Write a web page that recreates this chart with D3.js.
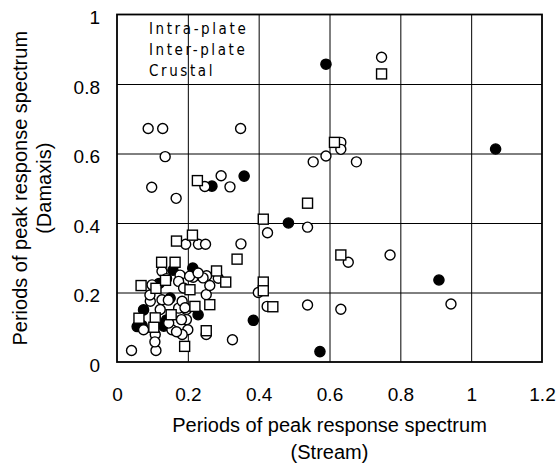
<!DOCTYPE html>
<html>
<head>
<meta charset="utf-8">
<script src="https://cdn.jsdelivr.net/npm/d3@7"></script>
<style>
  html, body { margin: 0; padding: 0; background: #fff; }
  svg { display: block; }
  text { font-family: "Liberation Sans", Arial, sans-serif; fill: #000; }
  .legend text { font-family: "Liberation Sans Narrow", "DejaVu Sans Condensed", sans-serif; font-stretch: condensed; }
</style>
</head>
<body>
<svg id="chart" width="557" height="463"></svg>
<script>
// Axis ticks
const xTicks = [0, 0.2, 0.4, 0.6, 0.8, 1, 1.2];
const xTickLabels = ["0", "0.2", "0.4", "0.6", "0.8", "1", "1.2"];
const yTicks = [0, 0.2, 0.4, 0.6, 0.8, 1];
const yTickLabels = ["0", "0.2", "0.4", "0.6", "0.8", "1"];

// Series names
const seriesNames = ["Intra-plate", "Inter-plate", "Crustal"];

// Intra-plate events: [Stream period, Damaxis period]
const intraPlate = [
  [0.590, 0.857], [1.069, 0.613], [0.268, 0.506], [0.359, 0.535], [0.484, 0.400],
  [0.909, 0.236], [0.385, 0.120], [0.573, 0.030], [0.214, 0.270], [0.158, 0.264],
  [0.150, 0.184], [0.075, 0.150], [0.071, 0.105], [0.132, 0.103], [0.229, 0.136],
  [0.119, 0.226], [0.057, 0.102], [0.140, 0.121]
];

// Inter-plate events
const interPlate = [
  [0.747, 0.877], [0.632, 0.632], [0.632, 0.612], [0.590, 0.593], [0.554, 0.576],
  [0.676, 0.576], [0.088, 0.672], [0.129, 0.672], [0.349, 0.672], [0.136, 0.591],
  [0.098, 0.503], [0.167, 0.471], [0.248, 0.505], [0.294, 0.536], [0.319, 0.504],
  [0.425, 0.372], [0.538, 0.388], [0.350, 0.340], [0.194, 0.339], [0.230, 0.339],
  [0.250, 0.339], [0.653, 0.287], [0.771, 0.308], [0.943, 0.167], [0.538, 0.164],
  [0.632, 0.152], [0.424, 0.160], [0.399, 0.200], [0.326, 0.064], [0.041, 0.033],
  [0.110, 0.033], [0.252, 0.079], [0.178, 0.250], [0.230, 0.250], [0.253, 0.248],
  [0.215, 0.244], [0.205, 0.247], [0.243, 0.242], [0.286, 0.241], [0.252, 0.194],
  [0.196, 0.151], [0.196, 0.122], [0.200, 0.093], [0.094, 0.175], [0.127, 0.179],
  [0.174, 0.155], [0.122, 0.151], [0.182, 0.122], [0.075, 0.093], [0.108, 0.079],
  [0.155, 0.093], [0.184, 0.079], [0.099, 0.222], [0.127, 0.261], [0.174, 0.232],
  [0.188, 0.213], [0.184, 0.175], [0.146, 0.112], [0.093, 0.193], [0.145, 0.178],
  [0.192, 0.156], [0.168, 0.087], [0.107, 0.058], [0.229, 0.256], [0.262, 0.220],
  [0.140, 0.240]
];

// Crustal events
const crustal = [
  [0.747, 0.829], [0.614, 0.632], [0.227, 0.522], [0.538, 0.457], [0.413, 0.411],
  [0.213, 0.365], [0.168, 0.348], [0.339, 0.296], [0.632, 0.308], [0.126, 0.287],
  [0.164, 0.287], [0.281, 0.262], [0.307, 0.230], [0.413, 0.230], [0.413, 0.205],
  [0.440, 0.159], [0.068, 0.220], [0.110, 0.212], [0.137, 0.235], [0.206, 0.208],
  [0.220, 0.160], [0.262, 0.165], [0.062, 0.126], [0.108, 0.127], [0.153, 0.136],
  [0.104, 0.100], [0.191, 0.045], [0.252, 0.090]
];

const svg = d3.select("#chart");
const plot = { left: 117, right: 542, top: 14.5, bottom: 362 };
const w = plot.right - plot.left, h = plot.bottom - plot.top;

const x = d3.scaleLinear().domain([0, 1.2]).range([plot.left, plot.right]);
const y = d3.scaleLinear().domain([0, 1]).range([plot.bottom, plot.top]);

// Gridlines
svg.append("g")
  .attr("transform", `translate(0,${plot.bottom})`)
  .call(d3.axisBottom(x).tickValues(xTicks.slice(1, -1)).tickSize(-h).tickFormat(""))
  .call(g => g.select(".domain").remove())
  .call(g => g.selectAll("line").attr("stroke", "#000").attr("stroke-width", 1));

svg.append("g")
  .attr("transform", `translate(${plot.left},0)`)
  .call(d3.axisLeft(y).tickValues(yTicks.slice(1, -1)).tickSize(-w).tickFormat(""))
  .call(g => g.select(".domain").remove())
  .call(g => g.selectAll("line").attr("stroke", "#000").attr("stroke-width", 1));

// Tick labels
svg.append("g")
  .attr("transform", `translate(0,${plot.bottom})`)
  .call(d3.axisBottom(x).tickValues(xTicks).tickSize(0).tickPadding(26)
    .tickFormat((d, i) => xTickLabels[i]))
  .call(g => g.select(".domain").remove())
  .call(g => g.selectAll("text").attr("font-size", 19).attr("font-family", null));

svg.append("g")
  .attr("transform", `translate(${plot.left},0)`)
  .call(d3.axisLeft(y).tickValues(yTicks).tickSize(0).tickPadding(17)
    .tickFormat((d, i) => yTickLabels[i]))
  .call(g => g.select(".domain").remove())
  .call(g => g.selectAll("text").attr("font-size", 19).attr("font-family", null).attr("dy", "0.48em"));

// Legend (text only)
const legend = svg.append("g").attr("class", "legend");
legend.selectAll("text")
  .data(seriesNames)
  .join("text")
  .attr("x", 149)
  .attr("y", (d, i) => 33.5 + i * 21.3)
  .attr("font-size", 15)
  .attr("letter-spacing", "2.6px")
  .text(d => d);

// Markers: filled circles, open circles, then squares on top
const pts = svg.append("g");
pts.selectAll("circle.intra")
  .data(intraPlate)
  .join("circle")
  .attr("class", "intra")
  .attr("cx", d => x(d[0])).attr("cy", d => y(d[1]))
  .attr("r", 5.1)
  .attr("fill", "#000").attr("stroke", "#000").attr("stroke-width", 1.4);

pts.selectAll("circle.inter")
  .data(interPlate)
  .join("circle")
  .attr("class", "inter")
  .attr("cx", d => x(d[0])).attr("cy", d => y(d[1]))
  .attr("r", 5)
  .attr("fill", "#fff").attr("stroke", "#000").attr("stroke-width", 1.4);

const sq = 10;
pts.selectAll("rect.crustal")
  .data(crustal)
  .join("rect")
  .attr("class", "crustal")
  .attr("x", d => x(d[0]) - sq / 2).attr("y", d => y(d[1]) - sq / 2)
  .attr("width", sq).attr("height", sq)
  .attr("fill", "#fff").attr("stroke", "#000").attr("stroke-width", 1.4);

// Plot frame
svg.append("rect")
  .attr("x", plot.left).attr("y", plot.top)
  .attr("width", w).attr("height", h)
  .attr("fill", "none").attr("stroke", "#000").attr("stroke-width", 1.8);

// Axis titles
const xTitle = svg.append("text")
  .attr("text-anchor", "middle")
  .attr("font-size", 20);
xTitle.append("tspan").attr("x", (plot.left + plot.right) / 2).attr("y", 431.5)
  .text("Periods of peak response spectrum");
xTitle.append("tspan").attr("x", (plot.left + plot.right) / 2).attr("y", 459)
  .text("(Stream)");

const cy = (plot.top + plot.bottom) / 2;
const yTitle = svg.append("text")
  .attr("text-anchor", "middle")
  .attr("font-size", 20)
  .attr("transform", `rotate(-90)`);
yTitle.append("tspan").attr("x", -cy).attr("y", 27)
  .text("Periods of peak response spectrum");
yTitle.append("tspan").attr("x", -cy).attr("y", 51)
  .text("(Damaxis)");
</script>
</body>
</html>
